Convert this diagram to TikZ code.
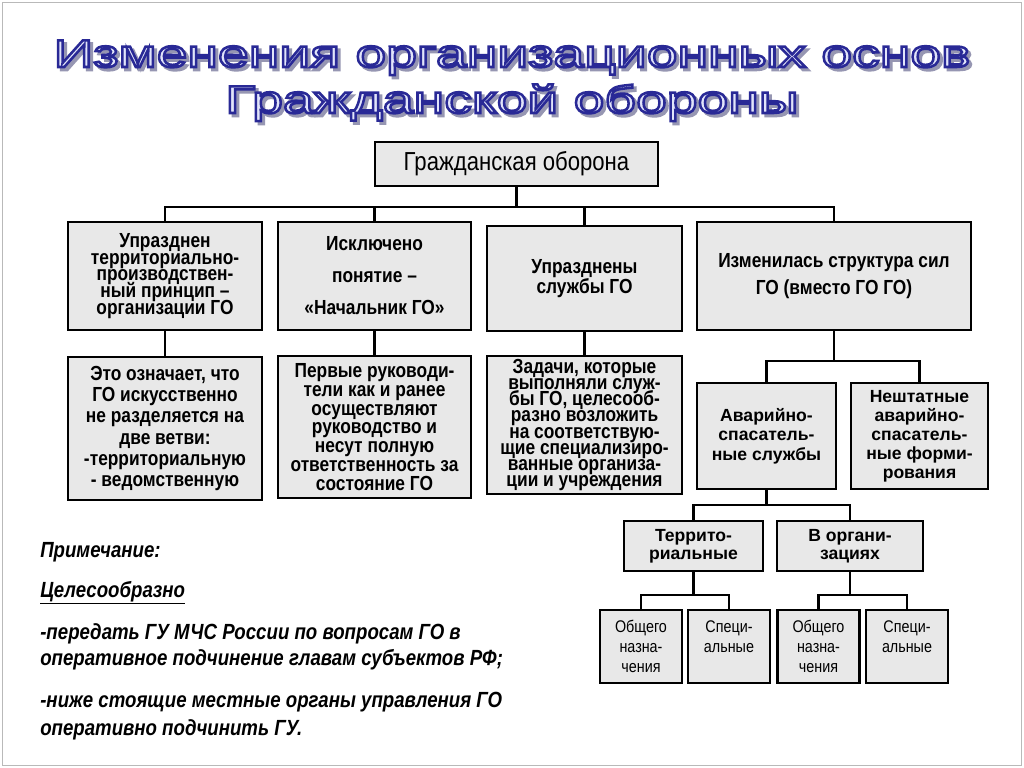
\documentclass[tikz,border=0pt]{standalone}
\usepackage{fontspec}
\setmainfont{Liberation Sans}
\newfontfamily\narrowfont[FakeStretch=0.85]{Liberation Sans}
\newfontfamily\titlefont[FakeStretch=1.43]{Liberation Sans}
\definecolor{boxgray}{RGB}{232,232,232}
\definecolor{titlefill}{RGB}{226,229,250}
\definecolor{titleshade}{RGB}{150,150,180}
\lineskiplimit=-20pt
% stroked text: #1 stroke colour (rgb), #2 text
\newcommand{\strokedtext}[2]{\special{pdf:literal direct 2 Tr 1.8 w #1 RG}#2\special{pdf:literal direct 0 Tr}}
\tikzset{
  box/.style={draw, line width=2pt, fill=boxgray, align=center, inner sep=1pt},
  link/.style={line width=2pt},
  rowtext/.style={font=\narrowfont\bfseries\fontsize{14.5}{#1}\selectfont},
  subtext/.style={font=\bfseries\fontsize{12.5}{#1}\selectfont},
  leaftext/.style={font=\narrowfont\fontsize{12}{14.2}\selectfont},
  titletext/.style={font=\titlefont\fontsize{27.5}{30}\selectfont, anchor=base, inner sep=0pt},
  notetext/.style={font=\narrowfont\bfseries\itshape\fontsize{15.6}{18}\selectfont, anchor=base west, inner sep=0pt},
}
\begin{document}
\begin{tikzpicture}[x=0.025cm, y=-0.025cm]
\useasboundingbox (0,0) rectangle (1024,768);
\fill[white] (0,0) rectangle (1024,768);
\draw[gray!55, line width=0.6pt] (2,2) rectangle (1021,765);

% title with outline and shadow
\coordinate (t1) at (512,67);
\coordinate (t2) at (512,113);
\node[titletext, text=titleshade, shift={(0.075cm,-0.075cm)}] (shade1) at (t1) {\strokedtext{0.59 0.59 0.70}{Изменения организационных основ}};
\node[titletext, text=titleshade, shift={(0.075cm,-0.075cm)}] (shade2) at (t2) {\strokedtext{0.59 0.59 0.70}{Гражданской обороны}};
\node[titletext, text=titlefill] (title1) at (t1) {\strokedtext{0.16 0.16 0.59}{Изменения организационных основ}};
\node[titletext, text=titlefill] (title2) at (t2) {\strokedtext{0.16 0.16 0.59}{Гражданской обороны}};

% top
\node[box, minimum width=7.075cm, minimum height=1.1cm, font=\narrowfont\fontsize{18.5}{20}\selectfont] (go) at (516.5,164) {Гражданская оборона};

% second row
\node[box, rowtext=12, minimum width=4.85cm, minimum height=2.7cm] (abol) at (165,276) {Упразднен\\территориально-\\производствен-\\ный принцип –\\организации ГО};
\node[box, rowtext=22.8, minimum width=4.825cm, minimum height=2.7cm] (chief) at (374.5,276) {Исключено\\понятие –\\«Начальник ГО»};
\node[box, rowtext=14, minimum width=4.875cm, minimum height=2.625cm] (serv) at (584.5,278.5) {Упразднены\\службы ГО};
\node[box, rowtext=19, minimum width=6.85cm, minimum height=2.7cm] (forces) at (834,276) {Изменилась структура сил\\ГО (вместо ГО ГО)};

% third row
\node[box, rowtext=15, minimum width=4.85cm, minimum height=3.575cm] (means) at (165,428.5) {Это означает, что\\ГО искусственно\\не разделяется на\\две ветви:\\-территориальную\\- ведомственную};
\node[box, rowtext=13.3, minimum width=4.825cm, minimum height=3.55cm] (heads) at (374.5,427) {Первые руководи-\\тели как и ранее\\осуществляют\\руководство и\\несут полную\\ответственность за\\состояние ГО};
\node[box, rowtext=11.4, minimum width=4.875cm, minimum height=3.45cm] (tasks) at (584.5,425) {Задачи, которые\\выполняли служ-\\бы ГО, целесооб-\\разно возложить\\на соответствую-\\щие специализиро-\\ванные организа-\\ции и учреждения};

% forces branch
\node[box, subtext=14, minimum width=3.475cm, minimum height=2.65cm] (rescue) at (766.5,436) {Аварийно-\\спасатель-\\ные службы};
\node[box, subtext=13.5, minimum width=3.425cm, minimum height=2.65cm] (extra) at (919.5,436) {Нештатные\\аварийно-\\спасатель-\\ные форми-\\рования};
\node[box, subtext=13, minimum width=3.475cm, minimum height=1.25cm] (terr) at (693.5,546) {Террито-\\риальные};
\node[box, subtext=13, minimum width=3.65cm, minimum height=1.25cm] (orgs) at (850,546) {В органи-\\зациях};

\foreach \x/\n/\txt in {641/gen1/{Общего\\назна-\\чения}, 729/spec1/{Специ-\\альные\\\phantom{ч}}, 818.5/gen2/{Общего\\назна-\\чения}, 907/spec2/{Специ-\\альные\\\phantom{ч}}}
  \node[box, leaftext, minimum width=2.05cm, minimum height=1.825cm] (\n) at (\x,646.5) {\txt};

% connectors
\coordinate (bus1) at (516.5,207);
\draw[link] (go.south) -- (bus1);
\foreach \n in {abol,chief,serv,forces} \draw[link] (bus1) -| (\n.north);
\foreach \a/\b in {abol/means, chief/heads, serv/tasks} \draw[link] (\a.south) -- (\b.north);
\coordinate (bus2) at (forces.south |- 0,361);
\draw[link] (forces.south) -- (bus2);
\foreach \n in {rescue,extra} \draw[link] (bus2) -| (\n.north);
\coordinate (bus3) at (rescue.south |- 0,505);
\draw[link] (rescue.south) -- (bus3);
\foreach \n in {terr,orgs} \draw[link] (bus3) -| (\n.north);
\coordinate (bus4) at (terr.south |- 0,595);
\coordinate (bus5) at (orgs.south |- 0,595);
\draw[link] (terr.south) -- (bus4);
\draw[link] (orgs.south) -- (bus5);
\foreach \n in {gen1,spec1} \draw[link] (bus4) -| (\n.north);
\foreach \n in {gen2,spec2} \draw[link] (bus5) -| (\n.north);

% note
\foreach \yy/\txt [count=\i] in {557/Примечание:, 597/\underline{Целесообразно}, 639/-передать ГУ МЧС России по вопросам ГО в, 665/оперативное подчинение главам субъектов РФ;, 707/-ниже стоящие местные органы управления ГО, 735/оперативно подчинить ГУ.}
  \node[notetext] (note\i) at (40,\yy) {\txt};
\end{tikzpicture}
\end{document}
